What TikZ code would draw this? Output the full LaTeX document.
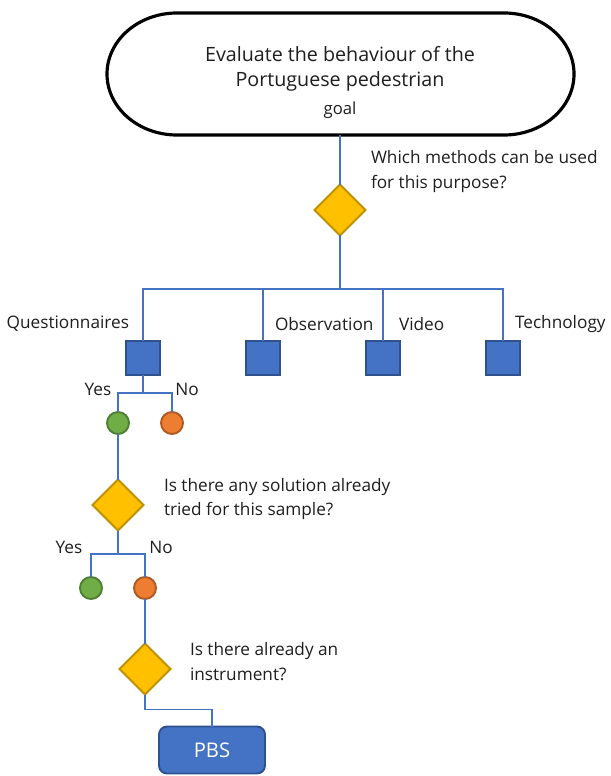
\documentclass[tikz,border=0pt]{standalone}
\usepackage{fontspec}
\setmainfont{Open Sans}
\definecolor{method}{RGB}{68, 114, 196}
\definecolor{methodedge}{RGB}{47, 82, 143}
\definecolor{question}{RGB}{255, 192, 0}
\definecolor{questionedge}{RGB}{191, 144, 0}
\definecolor{yesfill}{RGB}{112, 173, 71}
\definecolor{yesedge}{RGB}{80, 126, 50}
\definecolor{nofill}{RGB}{237, 125, 49}
\definecolor{noedge}{RGB}{174, 90, 33}
\definecolor{ink}{RGB}{30, 30, 30}
\usetikzlibrary{shapes.geometric}

\begin{document}
\begin{tikzpicture}[x=0.02cm, y=-0.02cm, font=\fontsize{9.8}{14.2}\selectfont, text=ink,
    every node/.style={inner sep=0pt, outer sep=0pt},
    link/.style={draw=method, line width=0.75pt},
    decision/.style={diamond, draw=questionedge, fill=question, line width=1.1pt, minimum width=1.02cm, minimum height=1.02cm},
    methodbox/.style={draw=methodedge, fill=method, line width=1.1pt, minimum size=0.68cm},
    yesdot/.style={circle, draw=yesedge, fill=yesfill, line width=1.1pt, minimum size=0.44cm},
    nodot/.style={circle, draw=noedge, fill=nofill, line width=1.1pt, minimum size=0.44cm}]
      \useasboundingbox (0,0) rectangle (610,776);

      % Goal
      \node[minimum width=9.34cm, minimum height=2.44cm] (goal) at (340,74) {};
      \draw[line width=1.8pt] (177,13) -- (504,13)
        arc[start angle=-90, end angle=90, x radius=70, y radius=61] -- (177,135)
        arc[start angle=90, end angle=270, x radius=70, y radius=61] -- cycle;
      \node[align=center, font=\fontsize{11.2}{14.2}\selectfont] (goaltext) at (340,69) {Evaluate the behaviour of the\\Portuguese pedestrian};
      \node[font=\fontsize{9.5}{10}\selectfont] (goallabel) at (340,110) {goal};

      % Questions
      \node[decision] (q1) at (340,210) {};
      \node[decision] (q2) at (118,505) {};
      \node[decision] (q3) at (145,669) {};
      \node[anchor=west, align=left] (q1text) at (371,172) {Which methods can be used\\for this purpose?};
      \node[anchor=west, align=left] (q2text) at (164,499) {Is there any solution already\\tried for this sample?};
      \node[anchor=west, align=left] (q3text) at (190,662) {Is there already an\\instrument?};

      % Methods
      \node[methodbox] (quest) at (143,358) {};
      \node[methodbox] (obs) at (263,358) {};
      \node[methodbox] (video) at (383,358) {};
      \node[methodbox] (tech) at (503,358) {};
      \node[anchor=east] (questtext) at (129,324) {Questionnaires};
      \node[anchor=west] (obstext) at (275,324) {Observation};
      \node[anchor=west] (videotext) at (399,324) {Video};
      \node[anchor=west] (techtext) at (515,324) {Technology};

      % Answers
      \node[yesdot] (yes1) at (118,423) {};
      \node[nodot] (no1) at (172,423) {};
      \node[yesdot] (yes2) at (91,588) {};
      \node[nodot] (no2) at (145,588) {};
      \node (yes1text) at (98,389) {Yes};
      \node (no1text) at (187,389) {No};
      \node (yes2text) at (69,547) {Yes};
      \node (no2text) at (161,547) {No};

      % Result
      \node[draw=methodedge, fill=method, line width=1.1pt, rounded corners=0.16cm, minimum width=2.12cm, minimum height=0.94cm, text=white, font=\fontsize{11.5}{13}\selectfont] (pbs) at (212,750) {PBS};

      % Links
      \coordinate (split) at (340,289);
      \coordinate (split1) at (143,393);
      \coordinate (split2) at (118,554);
      \draw[link] (goal.south) -- (q1.north);
      \draw[link] (q1.south) -- (split);
      \draw[link] (split) -| (quest.north);
      \draw[link] (split) -| (obs.north);
      \draw[link] (split) -| (video.north);
      \draw[link] (split) -| (tech.north);
      \draw[link] (quest.south) -- (split1);
      \draw[link] (split1) -| (yes1.north);
      \draw[link] (split1) -| (no1.north);
      \draw[link] (yes1.south) -- (q2.north);
      \draw[link] (q2.south) -- (split2);
      \draw[link] (split2) -| (yes2.north);
      \draw[link] (split2) -| (no2.north);
      \draw[link] (no2.south) -- (q3.north);
      \draw[link] (q3.south) -- ++(0,15) -| (pbs.north);
\end{tikzpicture}
\end{document}
